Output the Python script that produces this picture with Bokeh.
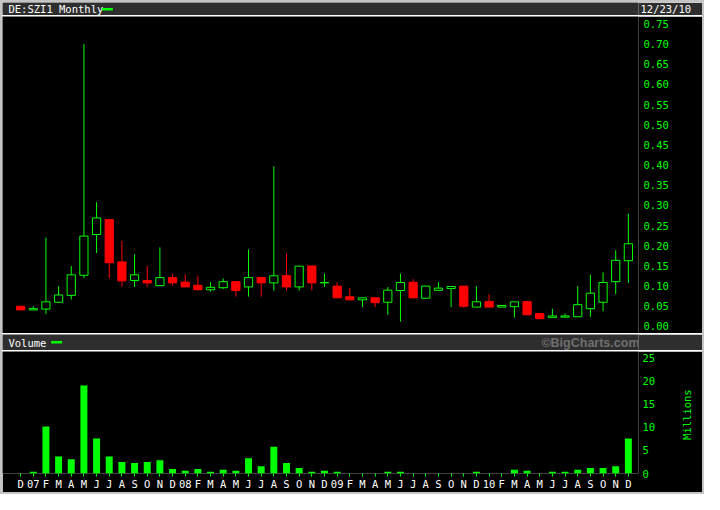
import math
from bokeh.plotting import figure
from bokeh.models import ColumnDataSource, FixedTicker, Range1d, PrintfTickFormatter, LinearAxis
from bokeh.layouts import column
from bokeh.embed import file_html
from bokeh.resources import INLINE
from bokeh.core.properties import value

# ---------------- data ----------------
months = ["D", "07", "F", "M", "A", "M", "J", "J", "A", "S", "O", "N",
          "D", "08", "F", "M", "A", "M", "J", "J", "A", "S", "O", "N",
          "D", "09", "F", "M", "A", "M", "J", "J", "A", "S", "O", "N",
          "D", "10", "F", "M", "A", "M", "J", "J", "A", "S", "O", "N", "D"]

opens = [0.050, 0.041, 0.043, 0.060, 0.077, 0.127, 0.228, 0.265, 0.160, 0.114, 0.114, 0.101,
         0.1215, 0.110, 0.102, 0.091, 0.096, 0.111, 0.098, 0.1215, 0.108, 0.126, 0.098, 0.150,
         0.108, 0.100, 0.0735, 0.066, 0.071, 0.060, 0.089, 0.1095, 0.070, 0.0896, 0.094, 0.100,
         0.048, 0.0616, 0.048, 0.049, 0.0616, 0.032, 0.0225, 0.023, 0.024, 0.044, 0.060, 0.111, 0.163]
closes = [0.041, 0.044, 0.061, 0.078, 0.128, 0.224, 0.269, 0.158, 0.113, 0.128, 0.108, 0.121,
          0.108, 0.098, 0.091, 0.097, 0.111, 0.089, 0.121, 0.108, 0.1256, 0.098, 0.1495, 0.108,
          0.109, 0.071, 0.066, 0.071, 0.059, 0.090, 0.109, 0.071, 0.100, 0.095, 0.099, 0.050,
          0.061, 0.048, 0.052, 0.061, 0.029, 0.019, 0.026, 0.026, 0.054, 0.0824, 0.109, 0.164, 0.205]
highs = [0.050, 0.050, 0.220, 0.100, 0.150, 0.700, 0.308, 0.265, 0.212, 0.179, 0.150, 0.196,
         0.131, 0.129, 0.126, 0.110, 0.119, 0.111, 0.191, 0.1215, 0.397, 0.181, 0.1495, 0.150,
         0.131, 0.110, 0.095, 0.071, 0.071, 0.0975, 0.131, 0.117, 0.100, 0.110, 0.099, 0.100,
         0.100, 0.080, 0.052, 0.061, 0.0616, 0.032, 0.044, 0.032, 0.100, 0.128, 0.134, 0.189, 0.280]
lows = [0.040, 0.041, 0.031, 0.060, 0.067, 0.120, 0.182, 0.120, 0.098, 0.098, 0.098, 0.101,
        0.101, 0.098, 0.089, 0.086, 0.093, 0.074, 0.074, 0.074, 0.0887, 0.089, 0.089, 0.089,
        0.098, 0.071, 0.066, 0.048, 0.048, 0.029, 0.012, 0.0695, 0.070, 0.0896, 0.048, 0.046,
        0.048, 0.048, 0.048, 0.022, 0.029, 0.019, 0.0225, 0.023, 0.024, 0.024, 0.038, 0.080, 0.108]
volumes = [0.0, 0.4, 10.2, 3.7, 3.1, 19.1, 7.6, 3.7, 2.5, 2.3, 2.5, 2.9,
           1.0, 0.6, 1.0, 0.4, 0.8, 0.6, 3.3, 1.6, 5.8, 2.3, 1.2, 0.4,
           0.6, 0.4, 0.0, 0.0, 0.0, 0.4, 0.4, 0.0, 0.0, 0.0, 0.0, 0.0,
           0.4, 0.0, 0.0, 0.8, 0.6, 0.0, 0.4, 0.4, 0.8, 1.2, 1.2, 1.6, 7.6]

price_ticks = [0.00, 0.05, 0.10, 0.15, 0.20, 0.25, 0.30, 0.35, 0.40,
               0.45, 0.50, 0.55, 0.60, 0.65, 0.70, 0.75]
volume_ticks = [0, 5, 10, 15, 20, 25]

header_title = "DE:SZI1 Monthly"
header_date = "12/23/10"
volume_title = "Volume"
volume_unit = "Millions"
credit = "\u00a9BigCharts.com"

# ---------------- styling ----------------
W = 700
RB = 60
FW = W - RB            # frame width shared by all stacked figures
FONT = "DejaVu Sans Mono"
FS = "10.5px"
GREEN = "#00ff00"
RED = "#ff0000"
BAND = "#2e2e2e"
LINE = "#5c5c5c"

idx = list(range(len(months)))
up = [c >= o for o, c in zip(opens, closes)]
src = ColumnDataSource(dict(
    x=idx, open=opens, close=closes, high=highs, low=lows,
    top=[max(o, c) for o, c in zip(opens, closes)],
    bottom=[min(o, c) for o, c in zip(opens, closes)],
    color=[GREEN if u else RED for u in up],
    fill=["black" if u else RED for u in up],
))
vsrc = ColumnDataSource(dict(x=idx, vol=volumes))

XR = (-1.43, 48.8)
VR = (0, 26.5)
UNIT_LABEL_START = 7.3   # where the rotated "Millions" text begins (bottom end)


def strip(height, color):
    b = figure(width=W, height=height, output_backend="svg", toolbar_location=None,
               x_range=Range1d(0, FW), y_range=Range1d(0, height),
               x_axis_location=None, y_axis_location=None,
               min_border_left=0, min_border_right=RB, min_border_top=0, min_border_bottom=0,
               background_fill_color=color, border_fill_color=color, outline_line_color=None)
    b.outline_line_alpha = 0
    b.grid.visible = False
    return b


def no_ticks(ax):
    ax.axis_line_color = None
    ax.major_tick_line_color = None
    ax.minor_tick_line_color = None
    ax.major_tick_out = 0
    ax.major_tick_in = 0


# ---------------- header band ----------------
H_H = 13
h = strip(H_H, BAND)
h.text(x=[6], y=[6.5], text=[header_title], text_color="white", text_font=value(FONT),
       text_font_size=FS, text_baseline="middle")
h.quad(left=[100], right=[111], bottom=[5], top=[7.5], fill_color=GREEN, line_color=None)
hy = LinearAxis(ticker=FixedTicker(ticks=[6.5]), major_label_overrides={6.5: header_date})
no_ticks(hy)
hy.major_label_standoff = 2
hy.major_label_text_color = "white"
hy.major_label_text_font = FONT
hy.major_label_text_font_size = FS
h.add_layout(hy, "right")
h_line = strip(1, LINE)

# ---------------- price panel ----------------
P_H = 317
p = figure(width=W, height=P_H, output_backend="svg", toolbar_location=None,
           x_range=Range1d(*XR), y_range=Range1d(-0.0175, 0.7685),
           x_axis_location=None, y_axis_location="right",
           min_border_left=0, min_border_right=RB, min_border_top=0, min_border_bottom=0,
           background_fill_color="black", border_fill_color="black", outline_line_color=None)
p.outline_line_alpha = 0
p.grid.visible = False
ay = p.yaxis[0]
ay.ticker = FixedTicker(ticks=price_ticks)
ay.formatter = PrintfTickFormatter(format="%.2f")
no_ticks(ay)
ay.major_label_standoff = 5
ay.major_label_text_color = GREEN
ay.major_label_text_font = FONT
ay.major_label_text_font_size = FS

p.segment(x0="x", y0="low", x1="x", y1="high", line_color="color", line_width=1, source=src)
p.vbar(x="x", width=0.65, top="top", bottom="bottom", fill_color="fill",
       line_color="color", line_width=1, source=src)

# ---------------- volume header band ----------------
v_line1 = strip(1, "#4a4a4a")
B_H = 16
vb = strip(B_H, BAND)
vb.text(x=[6], y=[8], text=[volume_title], text_color="white", text_font=value(FONT),
        text_font_size=FS, text_baseline="middle")
vb.quad(left=[49], right=[60], bottom=[7], top=[9.5], fill_color=GREEN, line_color=None)
vb.text(x=[641], y=[8], text=[credit], text_color="#6e6e6e",
        text_font=value("Liberation Sans"), text_font_style="bold",
        text_font_size="12.5px", text_baseline="middle", text_align="right")
v_line2 = strip(1, LINE)

# ---------------- volume panel ----------------
V_H, V_BOT = 141, 18
v = figure(width=W, height=V_H, output_backend="svg", toolbar_location=None,
           x_range=Range1d(*XR), y_range=Range1d(*VR),
           y_axis_location="right",
           min_border_left=0, min_border_right=RB, min_border_top=0, min_border_bottom=V_BOT,
           background_fill_color="black", border_fill_color="black", outline_line_color=None)
v.outline_line_alpha = 0
v.grid.visible = False
v.vbar(x="x", width=0.55, top="vol", bottom=0, fill_color=GREEN, line_color=None, source=vsrc)

vy = v.yaxis[0]
vy.ticker = FixedTicker(ticks=volume_ticks)
no_ticks(vy)
vy.major_label_standoff = 4
vy.major_label_text_color = GREEN
vy.major_label_text_font = FONT
vy.major_label_text_font_size = FS

# unit label ("Millions"), reading bottom-to-top, on a second right-hand axis
my = LinearAxis(ticker=FixedTicker(ticks=[UNIT_LABEL_START]),
                major_label_overrides={UNIT_LABEL_START: volume_unit})
no_ticks(my)
my.major_label_orientation = math.pi / 2
my.major_label_standoff = 29
my.major_label_text_color = GREEN
my.major_label_text_font = FONT
my.major_label_text_font_size = FS
v.add_layout(my, "right")

vx = v.xaxis[0]
vx.ticker = FixedTicker(ticks=idx)
vx.major_label_overrides = {i: m for i, m in zip(idx, months)}
vx.axis_line_color = None
vx.minor_tick_line_color = None
vx.major_tick_line_color = GREEN
vx.major_tick_out = 3
vx.major_tick_in = 0
vx.major_label_standoff = 1
vx.major_label_text_color = "white"
vx.major_label_text_font = FONT
vx.major_label_text_font_size = FS

layout = column(h, h_line, p, v_line1, vb, v_line2, v, spacing=0,
                styles={"border": "2px solid #c4c4c4", "box-sizing": "content-box"})
open("out.html", "w").write(file_html(layout, INLINE))
